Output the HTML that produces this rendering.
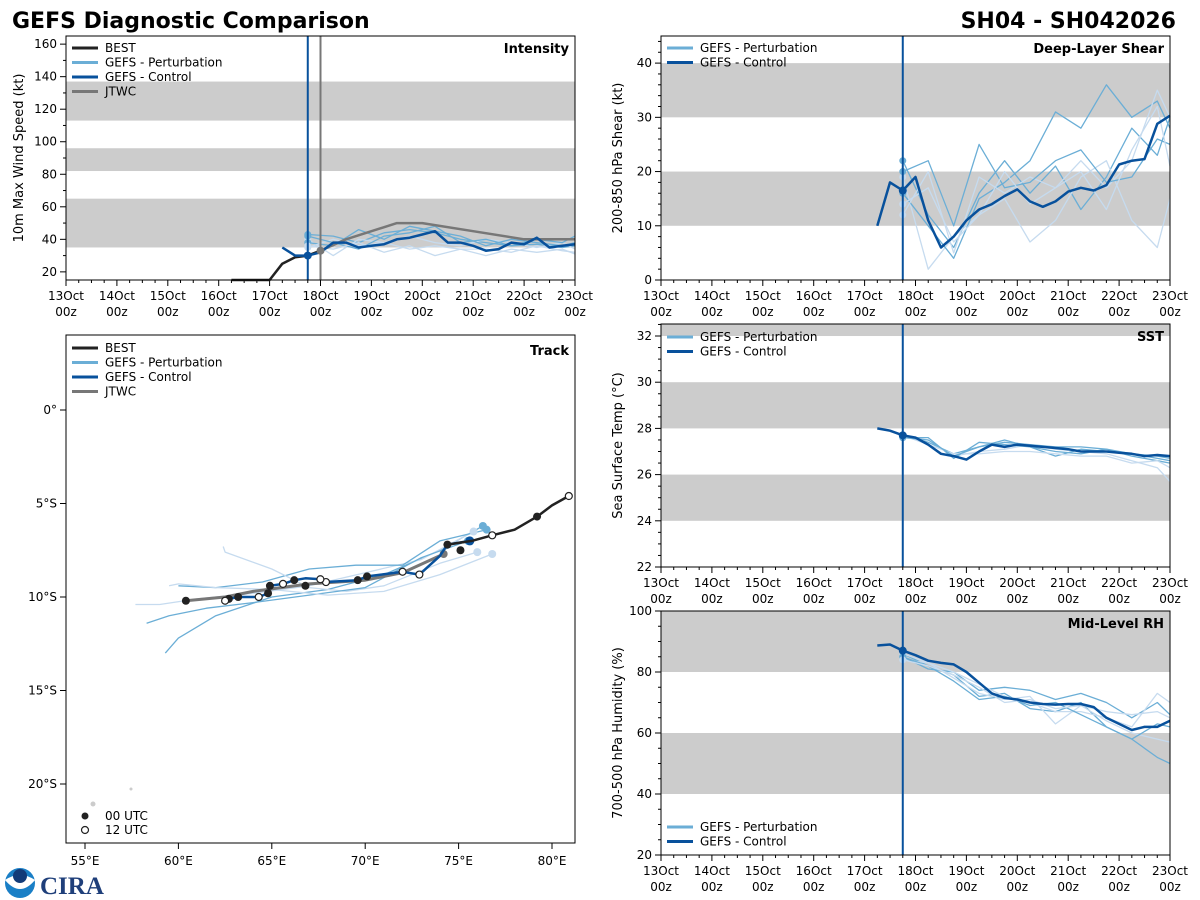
<!DOCTYPE html>
<html><head><meta charset="utf-8"><style>
html,body{margin:0;padding:0;background:#fff;}
svg{display:block;font-family:"DejaVu Sans","Liberation Sans",sans-serif;}
</style></head><body>
<svg id="chart" width="1200" height="900" viewBox="0 0 1200 900" xmlns="http://www.w3.org/2000/svg">
<text x="12" y="28" font-size="22" font-weight="bold" fill="#000">GEFS Diagnostic Comparison</text>
<text x="1176" y="28" font-size="22" font-weight="bold" fill="#000" text-anchor="end">SH04 - SH042026</text>
<g>
<circle cx="20" cy="883" r="15" fill="#1a7fc6"/><path d="M5 880 Q20 870 35 880 Q20 898 5 880Z" fill="#fff"/><circle cx="20" cy="876" r="7" fill="#123a78"/>
<text x="40" y="894" font-size="25" font-weight="bold" fill="#1f3f7a" font-family="Liberation Serif,serif">CIRA</text>
</g>
</svg>
<script>
// ---------- DATA ----------
const timeLabels = ["13Oct","14Oct","15Oct","16Oct","17Oct","18Oct","19Oct","20Oct","21Oct","22Oct","23Oct"];
// intensity (days since 13Oct 00z)
const bestIntT = [3.25,3.5,3.75,4.0,4.25,4.5,4.75,5.0];
const bestIntV = [15,15,15,15,25,29,30,33];
const ctrlT = [4.25,4.5,4.75,5.0,5.25,5.5,5.75,6.0,6.25,6.5,6.75,7.0,7.25,7.5,7.75,8.0,8.25,8.5,8.75,9.0,9.25,9.5,9.75,10.0];
const ctrlIntV = [35,30,30,32,38,38,35,36,37,40,41,43,45,38,38,36,33,34,38,37,41,35,36,37];
const jtwcT = [5.0,5.5,6.0,6.5,7.0,8.0,9.0,9.5,10.0];
const jtwcIntV = [33,40,45,50,50,45,40,40,40];
const pertT = [4.75,5.25,5.75,6.25,6.75,7.25,7.75,8.25,8.75,9.25,9.75,10.0];
const pertInt1 = [43,42,38,44,46,44,40,38,36,37,35,36];
const pertInt2 = [40,30,40,38,42,38,36,40,38,35,38,34];
const pertInt3 = [38,36,46,40,48,45,42,36,40,38,36,38];
const pertInt4 = [35,40,36,38,34,36,34,34,32,36,33,32];
const pertInt5 = [42,38,34,42,44,48,38,40,36,40,38,42];
const pertInt6 = [36,34,38,32,36,30,34,30,34,32,34,31];
// shear
const ctrlShearV = [10,18,16.5,19,11,6,8,11,13,14,15.5,16.7,14.5,13.5,14.5,16.3,17,16.5,17.5,21.3,22,22.3,28.8,30.3];
const pertShear1 = [22,12,6,16,22,16,21,13,19,28,23,30];
const pertShear2 = [19,2,8,12,15,7,11,19,22,11,6,15];
const pertShear3 = [16,10,4,15,18,22,31,28,36,30,33,28];
const pertShear4 = [12,20,5,19,16,19,17,22,17,22,35,30];
const pertShear5 = [20,22,10,25,17,18,22,24,18,19,26,25];
const pertShear6 = [14,17,7,12,20,14,17,20,13,24,32,21];
// SST
const ctrlSstV = [28.0,27.9,27.7,27.6,27.3,26.9,26.8,26.65,27.0,27.3,27.2,27.3,27.25,27.2,27.15,27.1,27.0,27.0,27.0,26.95,26.9,26.8,26.85,26.8];
const pertSst1 = [27.7,27.4,26.9,27.2,27.5,27.2,27.0,26.9,27.1,26.8,26.6,26.5];
const pertSst2 = [27.7,27.5,26.8,27.0,27.1,27.3,27.1,27.0,26.9,26.6,26.3,25.7];
const pertSst3 = [27.6,27.6,26.7,27.4,27.3,27.2,26.8,27.1,27.0,26.9,26.7,26.6];
const pertSst4 = [27.7,27.3,26.9,26.9,27.0,27.0,26.9,26.8,26.8,26.5,26.6,26.3];
const pertSst5 = [27.6,27.5,26.8,27.2,27.4,27.3,27.2,27.2,27.1,26.9,26.8,26.7];
// RH
const ctrlRhV = [88.7,89,87,85.5,83.7,83,82.5,80,76.5,73,71.5,71,70,69.5,69.3,69.5,69.5,68.5,65,63,61,62,62,64];
const pertRh1 = [86,82,79,72,73,68,67,70,62,58,52,50];
const pertRh2 = [84,83,78,73,71,72,63,69,64,60,58,57];
const pertRh3 = [85,81,80,74,75,74,71,73,70,65,70,66];
const pertRh4 = [86,83,80,76,72,70,67,67,65,62,73,70];
const pertRh5 = [85,82,77,71,72,69,70,66,62,58,63,62];
const pertRh6 = [84,82,79,75,70,71,68,69,67,66,67,65];
// track (lon E, lat)
const bestLon = [80.9,80.0,79.2,78.0,76.8,75.7,74.4];
const bestLat = [-4.6,-5.1,-5.7,-6.4,-6.7,-7.0,-7.2];
const ctrlLon = [75.6,74.4,74.0,72.9,72.0,70.1,69.6,67.9,67.6,66.8,66.2,65.6,64.9,64.8,64.3,63.2,62.7];
const ctrlLat = [-7.0,-7.2,-7.8,-8.8,-8.65,-8.9,-9.1,-9.2,-9.05,-9.0,-9.1,-9.3,-9.4,-9.8,-10.0,-10.0,-10.1];
const jtwcLon = [74.2,72.0,70.0,67.0,64.0,62.5,60.4];
const jtwcLat = [-7.7,-8.7,-9.1,-9.3,-9.7,-10.0,-10.2];
const fixFilledLon = [79.2,75.1,74.4,70.1,69.6,66.8,66.2,64.9,64.8,63.2,62.7,60.4];
const fixFilledLat = [-5.7,-7.5,-7.2,-8.9,-9.1,-9.4,-9.1,-9.4,-9.8,-10.0,-10.1,-10.2];
const fixOpenLon = [80.9,76.8,72.9,72.0,67.9,67.6,65.6,64.3,62.5];
const fixOpenLat = [-4.6,-6.7,-8.8,-8.65,-9.2,-9.05,-9.3,-10.0,-10.2];
const pertTrk1Lon = [76.3,74,71,68,65,62,60,59.3];
const pertTrk1Lat = [-6.2,-7.5,-8.8,-9.6,-10.0,-11.0,-12.2,-13.0];
const pertTrk2Lon = [75.8,73,70,67,64,61,59,57.7];
const pertTrk2Lat = [-6.5,-8.0,-8.7,-9.4,-9.8,-10.1,-10.4,-10.4];
const pertTrk3Lon = [76.5,74,72,69.5,67,64.5,62,60];
const pertTrk3Lat = [-6.4,-7.0,-8.3,-8.3,-8.5,-9.2,-9.5,-9.4];
const pertTrk4Lon = [76.0,74,71,69,67,65,62.5,62.4];
const pertTrk4Lat = [-7.6,-8.2,-9.4,-9.7,-9.5,-8.5,-7.6,-7.3];
const pertTrk5Lon = [75.5,73,70,67,64,61.5,59.5,58.3];
const pertTrk5Lat = [-7.0,-7.9,-9.5,-9.9,-10.3,-10.6,-11.0,-11.4];
const pertTrk6Lon = [76.8,74,71,68,65,62,60,59.5];
const pertTrk6Lat = [-7.7,-8.8,-9.7,-9.9,-9.6,-9.5,-9.3,-9.4];

// ---------- RENDER ----------
const NS = "http://www.w3.org/2000/svg";
const svg = document.getElementById("chart");
const C_PERT = "#6baed6", C_PERT_L = "#c6dbef", C_CTRL = "#08519c", C_BEST = "#222", C_JTWC = "#777";
function mk(tag, attrs, parent) {
  const e = document.createElementNS(NS, tag);
  for (const k in attrs) e.setAttribute(k, attrs[k]);
  (parent || svg).appendChild(e);
  return e;
}
function txt(x, y, s, attrs, parent) {
  const e = mk("text", Object.assign({x: x, y: y, "font-size": 12, fill: "#000"}, attrs || {}), parent);
  e.textContent = s;
  return e;
}
function polyline(xs, ys, fx, fy, color, w, name, parent) {
  const pts = xs.map((v, i) => fx(v).toFixed(1) + "," + fy(ys[i]).toFixed(1)).join(" ");
  const p = mk("polyline", {points: pts, fill: "none", stroke: color, "stroke-width": w, "stroke-linejoin": "round"}, parent);
  
  
  return p;
}
function dot(x, y, r, fill, stroke, name, parent) {
  const c = mk("circle", {cx: x, cy: y, r: r, fill: fill, stroke: stroke || "none", "stroke-width": 1.2}, parent);
  
  
  return c;
}

function timePanel(cfg) {
  const g = mk("g", {});
  
  
  const fx = t => cfg.x0 + (t / 10) * (cfg.x1 - cfg.x0);
  const fy = v => cfg.y1 - (v - cfg.ymin) / (cfg.ymax - cfg.ymin) * (cfg.y1 - cfg.y0);
  cfg.bands.forEach(b => {
    const r = mk("rect", {x: cfg.x0, y: fy(b[1]), width: cfg.x1 - cfg.x0, height: fy(b[0]) - fy(b[1]), fill: "#cccccc"}, g);
    
    
  });
  // x ticks
  for (let i = 0; i <= 40; i++) {
    const x = fx(i / 4);
    const major = i % 4 === 0;
    mk("line", {x1: x, x2: x, y1: cfg.y1, y2: cfg.y1 + (major ? 6 : 3), stroke: "#000", "stroke-width": 1}, g);
  }
  timeLabels.forEach((l, i) => {
    const t = txt(fx(i), cfg.y1 + 20, l, {"text-anchor": "middle"}, g);
    
    
    const t2 = txt(fx(i), cfg.y1 + 36, "00z", {"text-anchor": "middle"}, g);
    
    
  });
  // y ticks
  for (let v = cfg.ymin0; v <= cfg.ymax; v += cfg.minor) {
    const major = Math.abs((v - cfg.ymin0) % cfg.step) < 1e-6 || Math.abs((v - cfg.ymin0) % cfg.step - cfg.step) < 1e-6;
    const y = fy(v);
    mk("line", {x1: cfg.x0, x2: cfg.x0 - (major ? 6 : 3), y1: y, y2: y, stroke: "#000"}, g);
    if (major) {
      const t = txt(cfg.x0 - 9, y + 4, String(Math.round(v)), {"text-anchor": "end"}, g);
      
      
    }
  }
  const yt = txt(0, 0, cfg.ylabel, {"text-anchor": "middle", "font-size": 13, transform: "translate(" + cfg.ylx + "," + ((cfg.y0 + cfg.y1) / 2) + ") rotate(-90)"}, g);
  
  
  // series
  cfg.perts.forEach((p, i) => polyline(pertT, p, fx, fy, i % 2 ? C_PERT_L : C_PERT, 1.3, "perturbation-line", g));
  cfg.perts.forEach((p, i) => dot(fx(pertT[0]), fy(p[0]), 3.5, i % 2 ? C_PERT_L : C_PERT, null, "perturbation-init", g));
  if (cfg.jtwc) polyline(jtwcT, cfg.jtwc, fx, fy, C_JTWC, 2.5, "jtwc-line", g);
  if (cfg.best) polyline(bestIntT, cfg.best, fx, fy, C_BEST, 2.5, "best-line", g);
  polyline(ctrlT, cfg.ctrl, fx, fy, C_CTRL, 2.5, "control-line", g);
  dot(fx(4.75), fy(cfg.ctrl[2]), 4, C_CTRL, null, "control-init", g);
  if (cfg.jtwc) dot(fx(5.0), fy(cfg.jtwc[0]), 4, C_JTWC, null, "jtwc-init", g);
  // vlines
  const vl = mk("line", {x1: fx(4.75), x2: fx(4.75), y1: cfg.y0, y2: cfg.y1, stroke: C_CTRL, "stroke-width": 2}, g);
  
  
  if (cfg.gray) {
    const vg = mk("line", {x1: fx(5), x2: fx(5), y1: cfg.y0, y2: cfg.y1, stroke: "#777", "stroke-width": 2}, g);
    
    
  }
  const fr = mk("rect", {x: cfg.x0, y: cfg.y0, width: cfg.x1 - cfg.x0, height: cfg.y1 - cfg.y0, fill: "none", stroke: "#000", "stroke-width": 1}, g);
  
  
  const tt = txt(cfg.x1 - 6, cfg.y0 + 17, cfg.title, {"text-anchor": "end", "font-weight": "bold", "font-size": 13}, g);
  
  
  legend(g, cfg.x0, cfg.legY, cfg.legend);
}
function legend(g, x0, y, items) {
  const lg = mk("g", {}, g);
  
  
  items.forEach((it, i) => {
    const yy = y + i * 14.5;
    mk("line", {x1: x0 + 6, x2: x0 + 32, y1: yy, y2: yy, stroke: it[1], "stroke-width": 3}, lg);
    const t = txt(x0 + 39, yy + 4, it[0], {}, lg);
    
    
  });
}
const L4 = [["BEST", C_BEST], ["GEFS - Perturbation", C_PERT], ["GEFS - Control", C_CTRL], ["JTWC", C_JTWC]];
const L2 = [["GEFS - Perturbation", C_PERT], ["GEFS - Control", C_CTRL]];

timePanel({name: "intensity-panel", x0: 66, x1: 575, y0: 36, y1: 280, ymin: 15, ymax: 165, ymin0: 20, step: 20, minor: 10,
  bands: [[35, 65], [82, 96], [113, 137]], ylabel: "10m Max Wind Speed (kt)", ylx: 23, title: "Intensity",
  perts: [pertInt1, pertInt2, pertInt3, pertInt4, pertInt5, pertInt6], ctrl: ctrlIntV, jtwc: jtwcIntV, best: bestIntV, gray: true, legY: 48, legend: L4});
timePanel({name: "shear-panel", x0: 661, x1: 1170, y0: 36, y1: 280, ymin: 0, ymax: 45, ymin0: 0, step: 10, minor: 2,
  bands: [[10, 20], [30, 40]], ylabel: "200-850 hPa Shear (kt)", ylx: 622, title: "Deep-Layer Shear",
  perts: [pertShear1, pertShear2, pertShear3, pertShear4, pertShear5, pertShear6], ctrl: ctrlShearV, legY: 48, legend: L2});
timePanel({name: "sst-panel", x0: 661, x1: 1170, y0: 324, y1: 567, ymin: 22, ymax: 32.52, ymin0: 22, step: 2, minor: 0.5,
  bands: [[24, 26], [28, 30], [32, 32.52]], ylabel: "Sea Surface Temp (°C)", ylx: 622, title: "SST",
  perts: [pertSst1, pertSst2, pertSst3, pertSst4, pertSst5], ctrl: ctrlSstV, legY: 337, legend: L2});
timePanel({name: "rh-panel", x0: 661, x1: 1170, y0: 611, y1: 855, ymin: 20, ymax: 100, ymin0: 20, step: 20, minor: 5,
  bands: [[40, 60], [80, 100]], ylabel: "700-500 hPa Humidity (%)", ylx: 622, title: "Mid-Level RH",
  perts: [pertRh1, pertRh2, pertRh3, pertRh4, pertRh5, pertRh6], ctrl: ctrlRhV, legY: 827, legend: L2});

// Track panel
(function () {
  const x0 = 66, x1 = 575, y0 = 335, y1 = 843;
  const g = mk("g", {});
  
  
  const fx = lon => 85 + (lon - 55) * 18.68;
  const fy = lat => 410 - lat * 18.7;
  [55, 60, 65, 70, 75, 80].forEach(l => {
    mk("line", {x1: fx(l), x2: fx(l), y1: y1, y2: y1 + 6, stroke: "#000"}, g);
    const t = txt(fx(l), y1 + 22, l + "°E", {"text-anchor": "middle"}, g);
    
    
  });
  [0, -5, -10, -15, -20].forEach(l => {
    mk("line", {x1: x0, x2: x0 - 6, y1: fy(l), y2: fy(l), stroke: "#000"}, g);
    const t = txt(x0 - 9, fy(l) + 4, l === 0 ? "0°" : (-l) + "°S", {"text-anchor": "end"}, g);
    
    
  });
  const pl = [[pertTrk1Lon, pertTrk1Lat], [pertTrk2Lon, pertTrk2Lat], [pertTrk3Lon, pertTrk3Lat], [pertTrk4Lon, pertTrk4Lat], [pertTrk5Lon, pertTrk5Lat], [pertTrk6Lon, pertTrk6Lat]];
  pl.forEach((p, i) => polyline(p[0], p[1], fx, fy, i % 2 ? C_PERT_L : C_PERT, 1.3, "perturbation-track", g));
  pl.forEach((p, i) => dot(fx(p[0][0]), fy(p[1][0]), 4, i % 2 ? C_PERT_L : C_PERT, null, "perturbation-track-init", g));
  polyline(jtwcLon, jtwcLat, fx, fy, C_JTWC, 3, "jtwc-track", g);
  dot(fx(jtwcLon[0]), fy(jtwcLat[0]), 4, C_JTWC, null, "jtwc-track-init", g);
  polyline(ctrlLon, ctrlLat, fx, fy, C_CTRL, 2.5, "control-track", g);
  dot(fx(ctrlLon[0]), fy(ctrlLat[0]), 4.5, C_CTRL, null, "control-track-init", g);
  polyline(bestLon, bestLat, fx, fy, C_BEST, 2.5, "best-track", g);
  fixFilledLon.forEach((l, i) => dot(fx(l), fy(fixFilledLat[i]), 4, "#222", null, "fix-00utc", g));
  fixOpenLon.forEach((l, i) => dot(fx(l), fy(fixOpenLat[i]), 3.5, "#fff", "#222", "fix-12utc", g));
  dot(93, 804, 2.5, "#ccc", null, "island-marker", g);
  dot(131, 789, 1.5, "#ccc", null, "island-marker", g);
  const fr = mk("rect", {x: x0, y: y0, width: x1 - x0, height: y1 - y0, fill: "none", stroke: "#000"}, g);
  
  
  const tt = txt(x1 - 6, y0 + 20, "Track", {"text-anchor": "end", "font-weight": "bold", "font-size": 13}, g);
  
  
  legend(g, x0, 348, L4);
  dot(85, 816, 3.5, "#222", null, "legend-00utc-marker", g);
  dot(85, 830, 3.5, "#fff", "#222", "legend-12utc-marker", g);
  const a = txt(105, 820, "00 UTC", {}, g);
  
  
  const b = txt(105, 834, "12 UTC", {}, g);
  
  
})();
</script>
</body></html>
